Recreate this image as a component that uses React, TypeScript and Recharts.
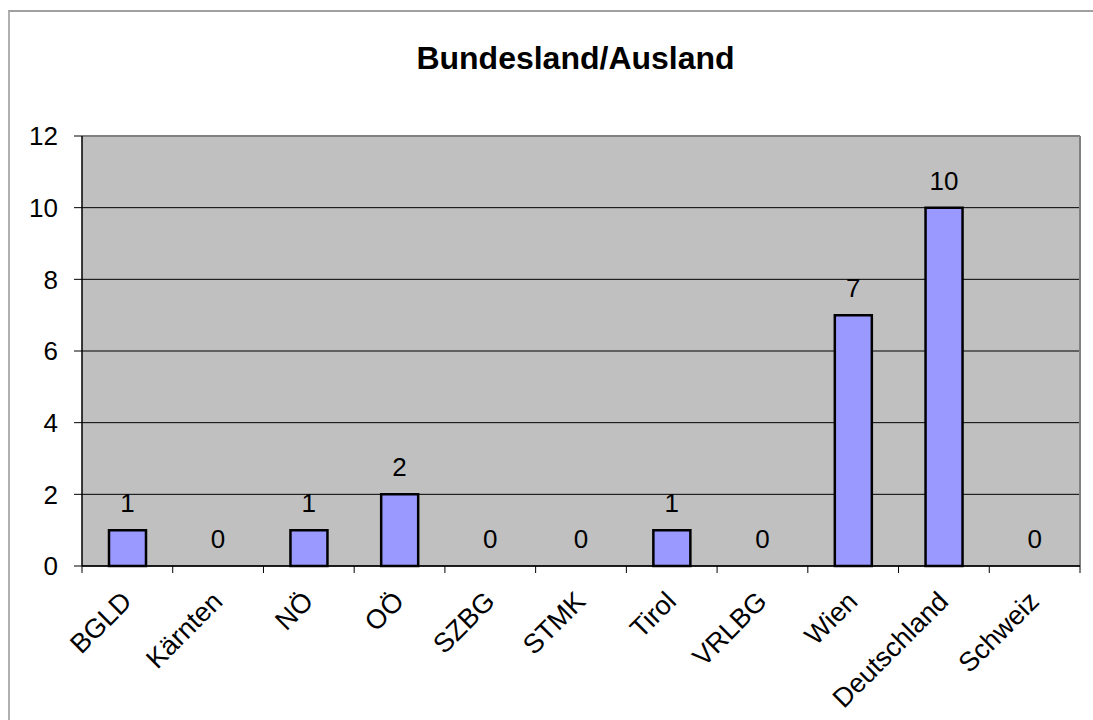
import React from "react"
import { Bar, ComposedChart, Line, XAxis, YAxis, CartesianGrid, LabelList, ReferenceLine } from "recharts"

// values
const regions = ["BGLD", "Kärnten", "NÖ", "OÖ", "SZBG", "STMK", "Tirol", "VRLBG", "Wien", "Deutschland", "Schweiz"]
const counts = [1, 0, 1, 2, 0, 0, 1, 0, 7, 10, 0]
const yTicks = [0, 2, 4, 6, 8, 10, 12]

const data = regions.map((name, i) => ({ name, count: counts[i] }))

const FONT = "'Liberation Sans', Arial, Helvetica, sans-serif"
const BAND = (1080 - 82) / regions.length

function RegionTick(props: any) {
    const { x, y, payload, index } = props
    const left = x - BAND / 2
    const tx = x + 6
    const ty = y + 37
    return (
        <g>
            <line x1={left} y1={y} x2={left} y2={y + 7} stroke="#000" />
            {index === regions.length - 1 && (
                <line x1={x + BAND / 2} y1={y} x2={x + BAND / 2} y2={y + 7} stroke="#000" />
            )}
            <text
                x={tx}
                y={ty}
                textAnchor="end"
                transform={`rotate(-45 ${tx} ${ty})`}
                fontSize={27}
                fontFamily={FONT}
                fill="#000"
            >
                {payload.value}
            </text>
        </g>
    )
}

export default function App() {
    return (
        <div style={{ position: "absolute", left: 0, top: 0, width: 1093, height: 720, background: "#fff" }}>
            <div
                style={{
                    position: "absolute",
                    left: 8,
                    top: 10,
                    width: 1093 - 8,
                    height: 720 - 10,
                    borderTop: "2px solid #a0a0a0",
                    borderLeft: "2px solid #b0b0b0",
                }}
            />
            <div
                style={{
                    position: "absolute",
                    left: 0,
                    top: 42,
                    width: 1151,
                    textAlign: "center",
                    fontFamily: FONT,
                    fontWeight: "bold",
                    fontSize: 32,
                    lineHeight: "32px",
                    color: "#000",
                }}
            >
                Bundesland/Ausland
            </div>
            <div style={{ position: "absolute", left: 0, top: 0 }}>
                <ComposedChart
                    width={1093}
                    height={720}
                    data={data}
                    margin={{ top: 136, right: 13, bottom: 54, left: 0 }}
                    barSize={37}
                >
                    <CartesianGrid vertical={false} stroke="#000" fill="#c0c0c0" fillOpacity={1} />
                    <ReferenceLine y={12} stroke="#808080" strokeWidth={2} />
                    <ReferenceLine x="Schweiz" position="end" stroke="#808080" strokeWidth={2} />
                    <XAxis
                        dataKey="name"
                        height={100}
                        interval={0}
                        tickLine={false}
                        tickSize={0}
                        tickMargin={0}
                        axisLine={{ stroke: "#000", strokeWidth: 1.5 }}
                        tick={<RegionTick />}
                    />
                    <YAxis
                        width={82}
                        domain={[0, 12]}
                        ticks={yTicks}
                        interval={0}
                        tickSize={8}
                        tickMargin={16}
                        axisLine={{ stroke: "#000", strokeWidth: 1.5 }}
                        tickLine={{ stroke: "#000" }}
                        tick={{ fontSize: 26, fontFamily: FONT, fill: "#000" }}
                    />
                    <Bar dataKey="count" fill="#9999ff" stroke="#000" strokeWidth={2.5} isAnimationActive={false} />
                    {/* invisible series that carries the value labels, so zeros get one too */}
                    <Line
                        dataKey="count"
                        stroke="none"
                        dot={false}
                        activeDot={false}
                        legendType="none"
                        isAnimationActive={false}
                    >
                        <LabelList
                            dataKey="count"
                            position="top"
                            offset={18}
                            fontSize={26}
                            fontFamily={FONT}
                            fill="#000"
                        />
                    </Line>
                </ComposedChart>
            </div>
        </div>
    )
}
